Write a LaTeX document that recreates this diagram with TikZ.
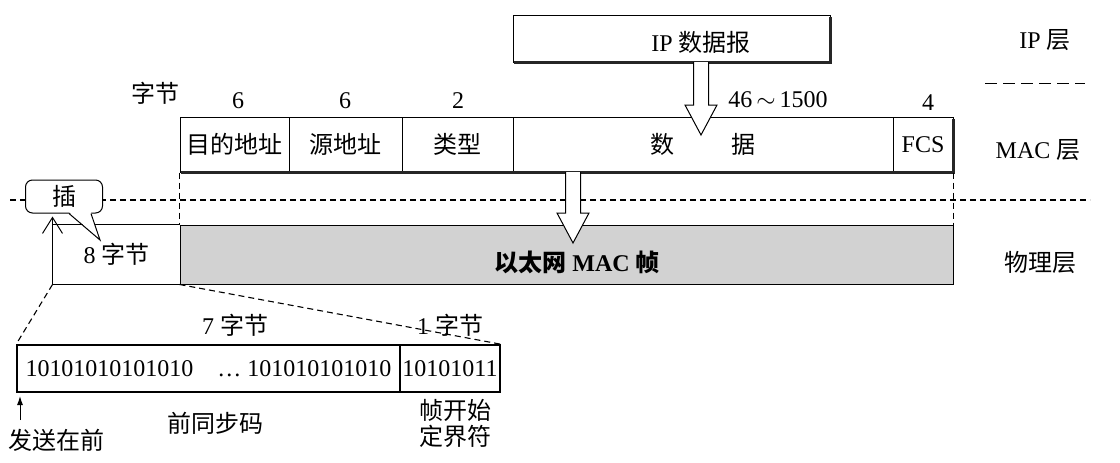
\documentclass[tikz,border=0pt]{standalone}
\usepackage{fontspec}
\setmainfont{Liberation Serif}
\newfontfamily\cjk{Noto Sans CJK SC}
\newcommand{\zh}[1]{{\cjk #1}}
\usetikzlibrary{calc,arrows.meta}

% hollow block arrow: #1 start, #2 tip
\newcommand{\fatarrow}[2]{%
  \draw[fill=white] let \p1=#1, \p2=#2 in
    (\x1-7.5pt,\y1) -- (\x1-7.5pt,\y2+30pt) -- (\x1-16pt,\y2+30pt)
    -- (\x2,\y2) -- (\x1+16pt,\y2+30pt) -- (\x1+7.5pt,\y2+30pt) -- (\x1+7.5pt,\y1);}

\begin{document}
\begin{tikzpicture}[x=1pt,y=-1pt, line width=1pt,
	font=\fontsize{24}{28}\selectfont,
	field/.style={draw, minimum height=55pt, inner sep=0pt},
	bitbox/.style={draw, line width=1.6pt, minimum height=47pt, inner sep=0pt},
	shadowline/.style={line width=2.8pt, black!85},
	dashline/.style={line width=1.1pt, dash pattern=on 6pt off 4pt}]
	\useasboundingbox (0,0) rectangle (1120,463);

	% IP layer
	\node[draw, minimum width=317pt, minimum height=47pt] (ip) at (671.5,38.5) {};
	\node (iptext) at (701,42) {IP \zh{数据报}};
	\draw[shadowline] ($(ip.south west)+(1,0)$) -- (ip.south east) -- ($(ip.north east)+(0,2)$);
	\node (iplayer) at (1045,40) {IP \zh{层}};
	\coordinate (sep1) at (985,83);
	\coordinate (sep2) at (1085,83);
	\draw[dash pattern=on 12pt off 6pt] (sep1) -- (sep2);

	% MAC layer
	\node[field, minimum width=109pt] (dst) at (234.5,144.5) {\zh{目的地址}};
	\node[field, minimum width=113pt] (src) at (345.5,144.5) {\zh{源地址}};
	\node[field, minimum width=111pt] (typ) at (457.5,144.5) {\zh{类型}};
	\node[field, minimum width=380pt] (dat) at (703,144.5) {\zh{数\hspace{2.4em}据}};
	\node[field, minimum width=60pt] (fcs) at (923,144.5) {FCS};
	\draw[shadowline] ($(dst.south west)+(1,0)$) -- (fcs.south east) -- ($(fcs.north east)+(0,2)$);
	\node (byte) at (155,93) {\zh{字节}};
	\node (ndst) at (238,101) {6};
	\node (nsrc) at (345,101) {6};
	\node (ntyp) at (458,101) {2};
	\node (ndat) at (778,100) {46\,$\sim$\,1500};
	\node (nfcs) at (928,103) {4};
	\node (maclayer) at (1038,150) {MAC \zh{层}};
	\coordinate (ipout) at (701,62);
	\coordinate (datin) at (701,135);
	\fatarrow{(ipout)}{(datin)}

	% physical layer
	\coordinate (lay1) at (10,200);
	\coordinate (lay2) at (1090,200);
	\draw[dashline] (lay1) -- (lay2);
	\node[minimum width=127pt, minimum height=59pt] (pre8) at (116.5,254.5) {8 \zh{字节}};
	\node[draw, fill=gray!35, minimum width=773pt, minimum height=59pt] (frame) at (566.5,254.5) {};
	\node[font=\fontsize{24}{28}\selectfont\bfseries] (frametext) at (577,262) {\zh{以太网} MAC \zh{帧}};
	\draw (pre8.north west) -- (frame.north west);
	\draw (pre8.south west) -- (frame.south west);
	\draw[-{Straight Barb[length=16pt,width=20pt]}] (pre8.south west) -- ($(pre8.north west)+(0,-8)$);
	\draw[dashline] (dst.south west) -- (frame.north west);
	\draw[dashline] (fcs.south east) -- (frame.north east);
	\coordinate (macout) at (573,172);
	\coordinate (framein) at (573,243);
	\fatarrow{(macout)}{(framein)}
	% callout bubble
	\node[draw, fill=white, rounded corners=7pt, minimum width=77pt, minimum height=33pt,
		inner sep=0pt] (ins) at (64,196.5) {\zh{插}\hspace{18pt}};
	\coordinate (instip) at (100,240);
	\fill[white] ($(ins.south west)+(44,-1.5)$) -- (instip) -- ($(ins.south west)+(66,-1.5)$) -- cycle;
	\draw ($(ins.south west)+(44,0)$) -- (instip) -- ($(ins.south west)+(66,0)$);
	\node (phylayer) at (1040,262) {\zh{物理层}};

	% preamble and SFD
	\node[bitbox, minimum width=383pt] (pre7) at (208.5,368.5) {10101010101010\hspace{1em}\dots\ 101010101010};
	\node[bitbox, minimum width=100pt] (sfd) at (450,368.5) {10101011};
	\draw[dashline] (pre8.south west) -- (pre7.north west);
	\draw[dashline] (frame.south west) -- (sfd.north east);
	\node (b7) at (235,325) {7 \zh{字节}};
	\node (b1) at (450,325) {1 \zh{字节}};
	\node (sync) at (215,423) {\zh{前同步码}};
	\node[align=center, font=\cjk\fontsize{24}{26}\selectfont] (sfdname) at (455,423) {帧开始\\定界符};
	\node (first) at (57,440) {\zh{发送在前}};
	\coordinate (sendtail) at (20,420);
	\coordinate (sendhead) at (20,396);
	\draw[-{Latex[length=9pt,width=6pt]}] (sendtail) -- (sendhead);
\end{tikzpicture}
\end{document}
